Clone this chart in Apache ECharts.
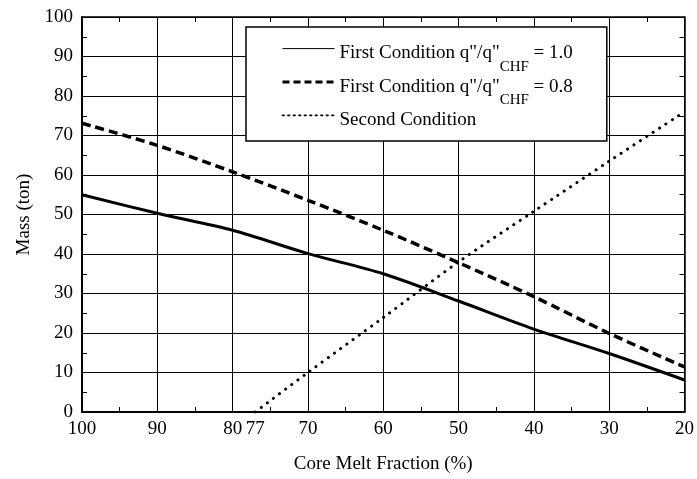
<!DOCTYPE html>
<html><head><meta charset="utf-8">
<script src="https://cdn.jsdelivr.net/npm/echarts@6/dist/echarts.min.js"></script>
<style>html,body{margin:0;padding:0;background:#fff}#c{width:697px;height:479px}</style>
</head><body><div id="c"></div>
<script>
// ---- data ----
const xMain = [100, 90, 80, 70, 60, 50, 40, 30, 20];
const massRatio10 = [55.0, 50.3, 46.0, 40.1, 35.0, 28.1, 21.0, 14.8, 8.1];
const massRatio08 = [73.1, 67.5, 60.8, 53.6, 46.0, 37.8, 29.2, 19.9, 11.4];
const xSecond = [77, 70, 60, 50, 40, 30, 20];
const massSecond = [0, 10.0, 23.9, 38.0, 50.8, 63.5, 76.0];
const xTickLabels = [100, 90, 80, 77, 70, 60, 50, 40, 30, 20];
const xTicks = [100, 90, 80, 70, 60, 50, 40, 30, 20];
const seriesNames = ['First Condition q"/q"CHF = 1.0', 'First Condition q"/q"CHF = 0.8', 'Second Condition'];

const FONT = "'Liberation Serif', 'Times New Roman', serif";
const BLACK = '#000';

function pairs(xs, ys) { return xs.map((x, i) => [x, ys[i]]); }

const chart = echarts.init(document.getElementById('c'), null, {renderer: 'canvas'});

const xBase = {type: 'value', min: 20, max: 100, interval: 10, inverse: true};
const yBase = {type: 'value', min: 0, max: 100, interval: 10};

chart.setOption({
  animation: false,
  backgroundColor: '#fff',
  color: [BLACK, BLACK, BLACK],
  grid: {left: 82, right: 7, top: 17, bottom: 62, containLabel: false},
  legend: {
    orient: 'vertical', left: 246, top: 27,
    padding: [16, 34, 0, 35],
    itemWidth: 52, itemHeight: 14, itemGap: 2,
    backgroundColor: '#fff', borderColor: BLACK, borderWidth: 1.5,
    selectedMode: false,
    itemStyle: {opacity: 0},
    formatter: function (name) {
      if (name.indexOf('CHF') >= 0) {
        const p = name.split('CHF');
        return '{a|' + p[0] + '}{s|CHF}{a|' + p[1] + '}';
      }
      return '{a|' + name + '}{s| }';
    },
    textStyle: {
      padding: [10.5, 0, 0, 0],
      rich: {
        a: {fontSize: 19, fontFamily: FONT, color: BLACK, lineHeight: 20, verticalAlign: 'top'},
        s: {fontSize: 15, fontFamily: FONT, color: BLACK, lineHeight: 15, padding: [15.5, 0, 0, 0], verticalAlign: 'top'}
      }
    },
    data: [
      {name: seriesNames[0], lineStyle: {width: 1, type: 'solid', color: BLACK}},
      {name: seriesNames[1], lineStyle: {width: 3, type: [7, 4], color: BLACK}},
      {name: seriesNames[2], lineStyle: {width: 1.8, type: [1.5, 4], color: BLACK}}
    ]
  },
  xAxis: [
    Object.assign({}, xBase, {
      position: 'bottom',
      axisLine: {show: true, onZero: false, lineStyle: {color: BLACK, width: 2}},
      axisTick: {show: true, inside: true, length: 6, customValues: xTicks, lineStyle: {color: BLACK}},
      minorTick: {show: true, splitNumber: 2, length: 5, lineStyle: {color: BLACK, width: 1}},
      axisLabel: {customValues: xTickLabels, margin: 8, color: BLACK, fontSize: 19, fontFamily: FONT},
      splitLine: {show: true, lineStyle: {color: BLACK, width: 1}},
      name: 'Core Melt Fraction (%)', nameLocation: 'middle', nameGap: 43,
      nameTextStyle: {color: BLACK, fontSize: 19, fontFamily: FONT}
    }),
    Object.assign({}, xBase, {
      position: 'top',
      axisLine: {show: true, onZero: false, lineStyle: {color: BLACK, width: 1.5}},
      axisTick: {show: true, inside: true, length: 6, lineStyle: {color: BLACK}},
      minorTick: {show: true, splitNumber: 2, length: 5, lineStyle: {color: BLACK, width: 1}},
      axisLabel: {show: false},
      splitLine: {show: false}
    })
  ],
  yAxis: [
    Object.assign({}, yBase, {
      position: 'left',
      axisLine: {show: true, onZero: false, lineStyle: {color: BLACK, width: 2}},
      axisTick: {show: true, inside: true, length: 6, lineStyle: {color: BLACK}},
      minorTick: {show: true, splitNumber: 2, length: 5, lineStyle: {color: BLACK, width: 1}},
      axisLabel: {margin: 9, color: BLACK, fontSize: 19, fontFamily: FONT},
      splitLine: {show: true, lineStyle: {color: BLACK, width: 1}},
      name: 'Mass (ton)', nameLocation: 'middle', nameGap: 48, nameRotate: 90,
      nameTextStyle: {color: BLACK, fontSize: 19, fontFamily: FONT}
    }),
    Object.assign({}, yBase, {
      position: 'right',
      axisLine: {show: true, onZero: false, lineStyle: {color: BLACK, width: 1.5}},
      axisTick: {show: true, inside: true, length: 6, lineStyle: {color: BLACK}},
      minorTick: {show: true, splitNumber: 2, length: 5, lineStyle: {color: BLACK, width: 1}},
      axisLabel: {show: false},
      splitLine: {show: false}
    })
  ],
  series: [
    {
      name: seriesNames[0], type: 'line', xAxisIndex: 0, yAxisIndex: 0,
      data: pairs(xMain, massRatio10), symbol: 'none', smooth: 0.3,
      itemStyle: {color: BLACK},
      lineStyle: {color: BLACK, width: 3, type: 'solid'}, z: 5
    },
    {
      name: seriesNames[1], type: 'line', xAxisIndex: 0, yAxisIndex: 0,
      data: pairs(xMain, massRatio08), symbol: 'none', smooth: 0.3,
      itemStyle: {color: BLACK},
      lineStyle: {color: BLACK, width: 3.5, type: [9, 5]}, z: 5
    },
    {
      name: seriesNames[2], type: 'line', xAxisIndex: 0, yAxisIndex: 0,
      data: pairs(xSecond, massSecond), symbol: 'none', smooth: 0.3,
      itemStyle: {color: BLACK},
      lineStyle: {color: BLACK, width: 3, type: [0.1, 7.5], cap: 'round'}, z: 5
    }
  ]
});
</script>
</body></html>
